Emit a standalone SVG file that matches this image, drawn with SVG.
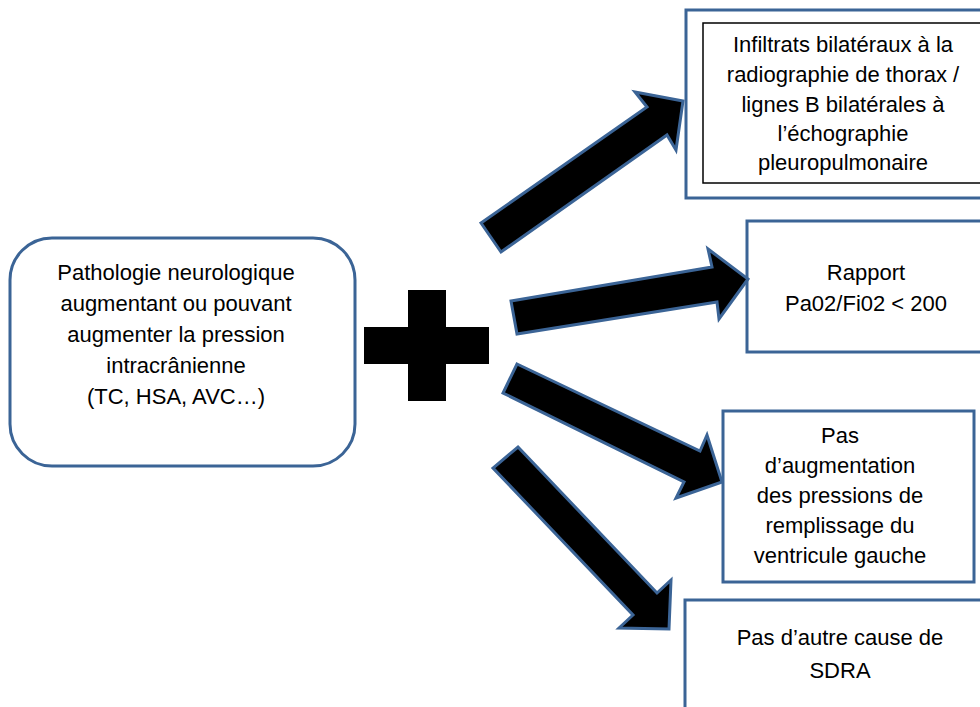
<svg xmlns="http://www.w3.org/2000/svg" width="980" height="707" viewBox="0 0 980 707">
<style>
.box{fill:#fff;stroke:#3b6496;stroke-width:3}
.inner{fill:none;stroke:#000;stroke-width:1.5}
.arrow{fill:#000;stroke:#3b6496;stroke-width:3;stroke-linejoin:miter}
text{font-family:"Liberation Sans",Arial,sans-serif;font-size:22px;fill:#000;text-anchor:middle}
</style>
<rect width="980" height="707" fill="#fff"/>
<g id="source">
<rect class="box" x="10" y="238" width="345" height="228" rx="42" ry="42"/>
<text x="176" y="280">Pathologie neurologique</text>
<text x="176" y="311">augmentant ou pouvant</text>
<text x="176" y="342">augmenter la pression</text>
<text x="176" y="373">intracrânienne</text>
<text x="176" y="404">(TC, HSA, AVC…)</text>
</g>
<g id="plus">
<path d="M408,290 H446 V327 H489 V364 H446 V401 H408 V364 H364 V327 H408 Z" fill="#000"/>
</g>
<g id="box-infiltrats">
<rect class="box" x="686" y="10" width="310" height="188"/>
<rect class="inner" x="703" y="23" width="290" height="160"/>
<text x="843" y="52">Infiltrats bilatéraux à la</text>
<text x="843" y="82">radiographie de thorax /</text>
<text x="843" y="112">lignes B bilatérales à</text>
<text x="843" y="141">l’échographie</text>
<text x="843" y="170">pleuropulmonaire</text>
</g>
<g id="box-rapport">
<rect class="box" x="747" y="221" width="250" height="131"/>
<text x="866" y="280">Rapport</text>
<text x="866" y="311">Pa02/Fi02 &lt; 200</text>
</g>
<g id="box-pressions">
<rect class="box" x="723" y="411" width="251" height="171"/>
<text x="840" y="443">Pas</text>
<text x="840" y="473">d’augmentation</text>
<text x="840" y="503">des pressions de</text>
<text x="840" y="533">remplissage du</text>
<text x="840" y="563">ventricule gauche</text>
</g>
<g id="box-sdra">
<rect class="box" x="685" y="600" width="310" height="120"/>
<text x="840" y="645">Pas d’autre cause de</text>
<text x="840" y="678">SDRA</text>
</g>
<g id="connectors">
<polygon class="arrow" points="481,223 647,107 635,92 683,101 676,150 667,135 501,252"/>
<polygon class="arrow" points="511,301 712,267 708,249 748,279 719,319 717,302 517,334"/>
<polygon class="arrow" points="517,364 700,451 707,435 722,482 676,498 684,482 503,393"/>
<polygon class="arrow" points="518,447 657,593 671,580 669,629 619,628 633,615 493,468"/>
</g>
</svg>
